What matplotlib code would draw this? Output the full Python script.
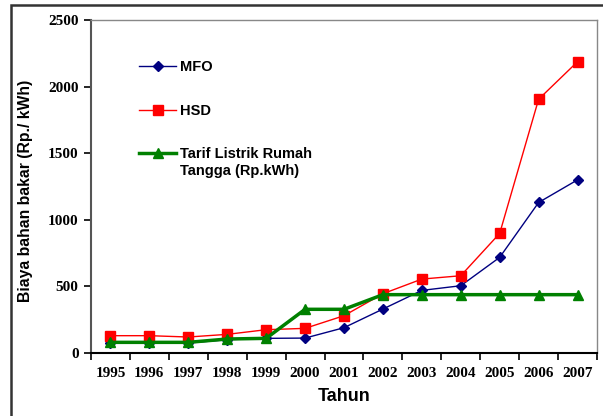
import matplotlib
matplotlib.use("Agg")
import matplotlib.pyplot as plt
from matplotlib.patches import Rectangle
import numpy as np

years = ["1995", "1996", "1997", "1998", "1999", "2000", "2001",
         "2002", "2003", "2004", "2005", "2006", "2007"]
mfo = [75, 75, 75, 100, 110, 112, 190, 330, 470, 505, 718, 1130, 1300]
hsd = [130, 130, 120, 140, 175, 185, 280, 445, 555, 580, 898, 1905, 2187]
tarif = [80, 80, 80, 105, 110, 328, 328, 438, 438, 438, 438, 438, 438]

fig = plt.figure(figsize=(6.03, 4.16), dpi=100)
fig.patches.append(Rectangle((11/603, -0.05), 1.2, 1 - 5/416 + 0.05,
                             transform=fig.transFigure, fill=False,
                             edgecolor="#333333", linewidth=1.8))
ax = fig.add_axes([91/603, 1 - 353/416, (597-91)/603, (353-20)/416])

x = np.arange(len(years))
ax.plot(x, mfo, color="#000080", marker="D", markersize=5, linewidth=1.0,
        label="MFO")
ax.plot(x, hsd, color="#FF0000", marker="s", markersize=6.5, linewidth=1.0,
        label="HSD")
ax.plot(x, tarif, color="#008000", marker="^", markersize=7.5, linewidth=2.5,
        label="Tarif Listrik Rumah")

ax.set_xlim(-0.5, len(years) - 0.5)
ax.set_ylim(0, 2500)
ax.set_yticks([0, 500, 1000, 1500, 2000, 2500])
serif = {"family": "Liberation Serif", "weight": "bold", "size": 11}
ax.set_yticklabels(["0", "500", "1000", "1500", "2000", "2500"], fontdict=serif)
ax.set_xticks(x)
ax.set_xticklabels(years, fontdict=serif)
ax.set_xticks(np.arange(-0.5, len(years)), minor=True)
ax.tick_params(axis="x", which="major", length=0, pad=10)
ax.tick_params(axis="x", which="minor", length=5, width=1.2, direction="out")
ax.tick_params(axis="y", which="major", length=5, width=1.2, direction="out", pad=4)

for s in ["top", "right"]:
    ax.spines[s].set_color("#888888")
    ax.spines[s].set_linewidth(1.0)
ax.spines["left"].set_color("#555555")
ax.spines["left"].set_linewidth(1.5)
ax.spines["bottom"].set_color("black")
ax.spines["bottom"].set_linewidth(1.5)

sans = {"family": "Liberation Sans", "weight": "bold"}
ax.set_ylabel("Biaya bahan bakar (Rp./ kWh)", fontdict=sans, fontsize=11.3)
ax.yaxis.set_label_coords(-0.1146, 0.486)
ax.set_xlabel("Tahun", fontdict=sans, fontsize=13, labelpad=6)

legfont = {"family": "Liberation Sans", "weight": "bold", "size": 10.5}
leg = ax.legend(loc="upper left", bbox_to_anchor=(0.084, 0.896), frameon=False,
                prop=legfont, labelspacing=2.0, handlelength=2.5,
                handletextpad=0.3, borderaxespad=0)

fig.canvas.draw()
t = leg.get_texts()[2]
bb = t.get_window_extent(fig.canvas.get_renderer())
inv = fig.transFigure.inverted()
x0, y0 = inv.transform((bb.x0, bb.y0 - 17))
fig.text(x0, y0, "Tangga (Rp.kWh)", fontfamily="Liberation Sans",
         fontweight="bold", fontsize=10.5, ha="left", va="bottom")

fig.savefig("out.png", dpi=100)
